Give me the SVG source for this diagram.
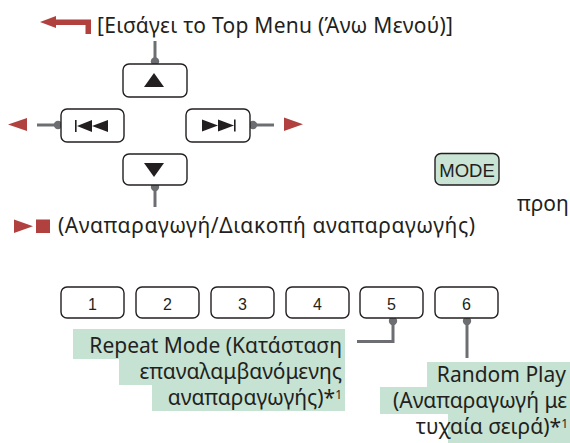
<svg xmlns="http://www.w3.org/2000/svg" width="570" height="443" viewBox="0 0 570 443">
<style>
.btn{fill:#ffffff;stroke:#231f20;stroke-width:1.4}
.mode{fill:#c9e3d4;stroke:#231f20;stroke-width:1.4}
.ico{fill:#231f20}
.red{fill:#b0413e}
.wire{fill:none;stroke:#6d6e71;stroke-width:3}
.dot{fill:#6d6e71}
.t{font-family:"Noto Sans","Open Sans","DejaVu Sans",sans-serif;font-size:21px;fill:#231f20}
.r{text-anchor:end}
.n{font-family:"Liberation Sans",Arial,sans-serif;font-size:16px;fill:#231f20;text-anchor:middle}
.sup{font-size:12px}
.hl{fill:#c6e2d2}
</style>
<rect width="570" height="443" fill="#ffffff"/>

<g id="connectors">
  <line class="wire" x1="155" y1="41" x2="155" y2="61"/>
  <circle class="dot" cx="155" cy="61.5" r="4.2"/>
  <line class="wire" x1="37" y1="125" x2="57" y2="125"/>
  <circle class="dot" cx="58" cy="125" r="4.2"/>
  <line class="wire" x1="254" y1="125" x2="274" y2="125"/>
  <circle class="dot" cx="253" cy="125" r="4.2"/>
  <line class="wire" x1="155" y1="187" x2="155" y2="207"/>
  <circle class="dot" cx="155" cy="187" r="4.2"/>
  <polyline class="wire" points="393,321 393,341.5 357,341.5"/>
  <circle class="dot" cx="393" cy="321" r="4.2"/>
  <line class="wire" x1="467" y1="321" x2="467" y2="358"/>
  <circle class="dot" cx="467" cy="321" r="4.2"/>
</g>

<g id="top-menu-label">
  <polygon class="red" points="40,22 56,16 56,19.5 91,19.5 91,34 85.5,34 85.5,25 56,25 56,28"/>
  <text class="t" x="97" y="33" textLength="356">[Εισάγει το Top Menu (Άνω Μενού)]</text>
</g>

<g id="btn-up">
  <rect class="btn" x="123" y="64" width="64" height="33" rx="6"/>
  <polygon class="ico" points="144,87 164,87 154,73"/>
</g>

<g id="btn-prev">
  <rect class="btn" x="61" y="109" width="63" height="33" rx="6"/>
  <rect class="ico" x="75" y="120" width="1.6" height="12"/>
  <polygon class="ico" points="77,126 92,120 92,132"/>
  <polygon class="ico" points="92,126 108,120 108,132"/>
  <polygon class="red" points="8,124.5 27,118 27,131"/>
</g>

<g id="btn-next">
  <rect class="btn" x="186" y="109" width="64" height="33" rx="6"/>
  <polygon class="ico" points="202,119.5 202,131.5 218,125.5"/>
  <polygon class="ico" points="218,119.5 218,131.5 234,125.5"/>
  <rect class="ico" x="234" y="119.5" width="1.6" height="12"/>
  <polygon class="red" points="284,117.5 284,131 303,124.2"/>
</g>

<g id="btn-down">
  <rect class="btn" x="123" y="154" width="64" height="31" rx="6"/>
  <polygon class="ico" points="144,163 164,163 154,177"/>
</g>

<g id="play-label">
  <polygon class="red" points="14,219.5 14,233 33,226.2"/>
  <rect class="red" x="36" y="219.5" width="14" height="13.5"/>
  <text class="t" x="58" y="233" textLength="417">(Αναπαραγωγή/Διακοπή αναπαραγωγής)</text>
</g>

<g id="btn-mode">
  <rect class="mode" x="435" y="153.5" width="64" height="31.5" rx="6"/>
  <text class="n" x="467" y="176.5" style="font-size:18.5px">MODE</text>
</g>

<g id="partial-text">
  <text class="t" x="517" y="211">προη</text>
</g>

<g id="btn-1"><rect class="btn" x="61" y="287" width="63" height="31" rx="6"/><text class="n" x="92.5" y="310">1</text></g>
<g id="btn-2"><rect class="btn" x="136" y="287" width="63" height="31" rx="6"/><text class="n" x="167.5" y="310">2</text></g>
<g id="btn-3"><rect class="btn" x="211" y="287" width="63" height="31" rx="6"/><text class="n" x="242.5" y="310">3</text></g>
<g id="btn-4"><rect class="btn" x="286" y="287" width="63" height="31" rx="6"/><text class="n" x="317.5" y="310">4</text></g>
<g id="btn-5"><rect class="btn" x="360" y="287" width="63" height="31" rx="6"/><text class="n" x="391.5" y="310">5</text></g>
<g id="btn-6"><rect class="btn" x="435" y="287" width="63" height="31" rx="6"/><text class="n" x="466.5" y="310">6</text></g>

<g id="repeat-label">
  <rect class="hl" x="73" y="329" width="272" height="30"/>
  <rect class="hl" x="119" y="358" width="226" height="27"/>
  <rect class="hl" x="152" y="384" width="193" height="27"/>
  <text class="t r" x="342" y="353">Repeat Mode (Κατάσταση</text>
  <text class="t r" x="342" y="379">επαναλαμβανόμενης</text>
  <text class="t r" x="342" y="405">αναπαραγωγής)*<tspan class="sup" dy="-6">1</tspan></text>
</g>

<g id="random-label">
  <rect class="hl" x="427" y="362" width="143" height="26"/>
  <rect class="hl" x="380" y="387" width="190" height="27"/>
  <rect class="hl" x="448" y="413" width="122" height="30"/>
  <text class="t r" x="566" y="382">Random Play</text>
  <text class="t r" x="567" y="408">(Αναπαραγωγή με</text>
  <text class="t r" x="568" y="434">τυχαία σειρά)*<tspan class="sup" dy="-6">1</tspan></text>
</g>
</svg>
